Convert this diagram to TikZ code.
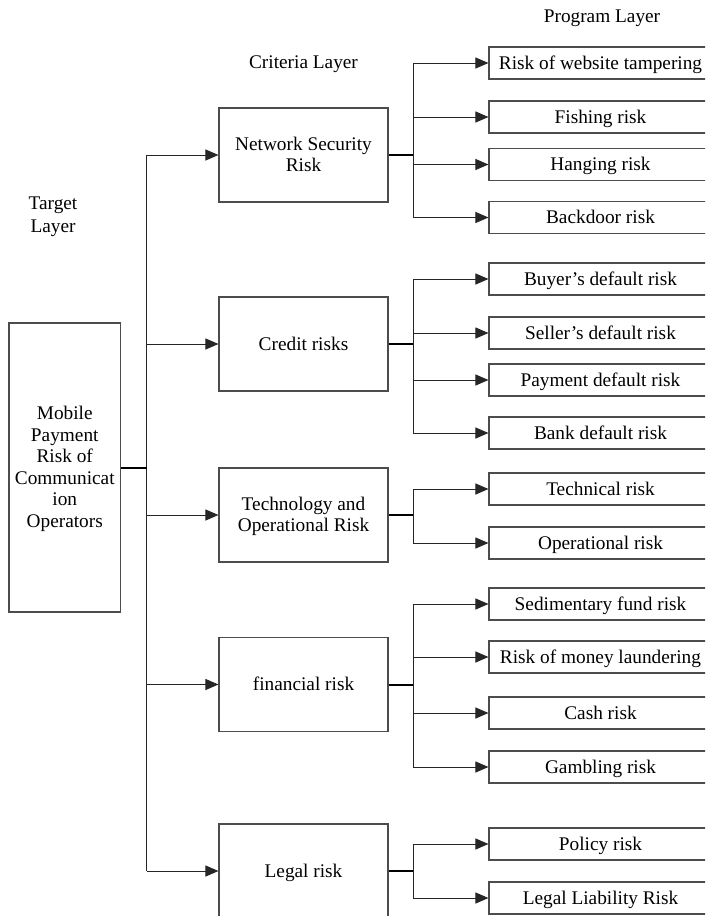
\documentclass[tikz,border=0pt]{standalone}
\usepackage{fontspec}
\setmainfont{Liberation Serif}
\usetikzlibrary{arrows.meta}
\begin{document}
\begin{tikzpicture}[x=1pt,y=-1pt,
 txt/.style={font=\fontsize{19.3}{21.5}\selectfont, align=center},
 box/.style={txt, draw=black!70, line width=1.1pt, inner sep=0pt, text depth=1pt},
 crit/.style={box, minimum width=169pt, minimum height=94pt},
 prog/.style={box, minimum width=223pt, minimum height=32pt},
 conn/.style={line width=1pt, black!85},
 stub/.style={line width=2pt, black},
 arr/.style={conn, -{Triangle[length=13pt,width=11pt]}},
 lbl/.style={txt, font=\fontsize{19.3}{23}\selectfont}
]
\clip (0,0) rectangle (705,916);
\fill[white] (0,0) rectangle (705,916);

% layer labels
\node[lbl] (lp) at (602,18) {Program Layer};
\node[lbl] (lc) at (303.5,64) {Criteria Layer};
\node[lbl] (lt) at (53,216.5) {Target\\Layer};

% target
\node[box, minimum width=111.5pt, minimum height=289pt] (T) at (64.75,467.5)
  {Mobile\\Payment\\Risk of\\Communicat\\ion\\Operators};

% criteria
\node[crit] (C1) at (303.5,155) {Network Security\\Risk};
\node[crit] (C2) at (303.5,344) {Credit risks};
\node[crit] (C3) at (303.5,515) {Technology and\\Operational Risk};
\node[crit] (C4) at (303.5,684.5) {financial risk};
\node[crit] (C5) at (303.5,871) {Legal risk};

% programs
\node[prog] (P11) at (600.5,63) {Risk of website tampering};
\node[prog] (P12) at (600.5,117) {Fishing risk};
\node[prog] (P13) at (600.5,164.5) {Hanging risk};
\node[prog] (P14) at (600.5,217.5) {Backdoor risk};
\node[prog] (P21) at (600.5,279) {Buyer's default risk};
\node[prog] (P22) at (600.5,333) {Seller's default risk};
\node[prog] (P23) at (600.5,380) {Payment default risk};
\node[prog] (P24) at (600.5,433) {Bank default risk};
\node[prog] (P31) at (600.5,489) {Technical risk};
\node[prog] (P32) at (600.5,543) {Operational risk};
\node[prog] (P41) at (600.5,604) {Sedimentary fund risk};
\node[prog] (P42) at (600.5,657) {Risk of money laundering};
\node[prog] (P43) at (600.5,713) {Cash risk};
\node[prog] (P44) at (600.5,767) {Gambling risk};
\node[prog] (P51) at (600.5,844) {Policy risk};
\node[prog] (P52) at (600.5,898) {Legal Liability Risk};

% trunk and bus x positions
\coordinate (tr) at (146.5,0);
\coordinate (b) at (413,0);

% target to criteria
\draw[conn] (C1.west -| tr) -- (C5.west -| tr);
\draw[stub] (T.east) -- (T.east -| tr);
\foreach \c in {C1,C2,C3,C4,C5}
  \draw[arr] (\c.west -| tr) -- (\c.west);

% criteria to programs
\draw[conn] (P11.west -| b) -- (P14.west -| b);
\draw[conn] (P21.west -| b) -- (P24.west -| b);
\draw[conn] (P31.west -| b) -- (P32.west -| b);
\draw[conn] (P41.west -| b) -- (P44.west -| b);
\draw[conn] (P51.west -| b) -- (P52.west -| b);
\foreach \c in {C1,C2,C3,C4,C5}
  \draw[stub] (\c.east) -- (\c.east -| b);
\foreach \p in {P11,P12,P13,P14,P21,P22,P23,P24,P31,P32,P41,P42,P43,P44,P51,P52}
  \draw[arr] (\p.west -| b) -- (\p.west);
\end{tikzpicture}
\end{document}
